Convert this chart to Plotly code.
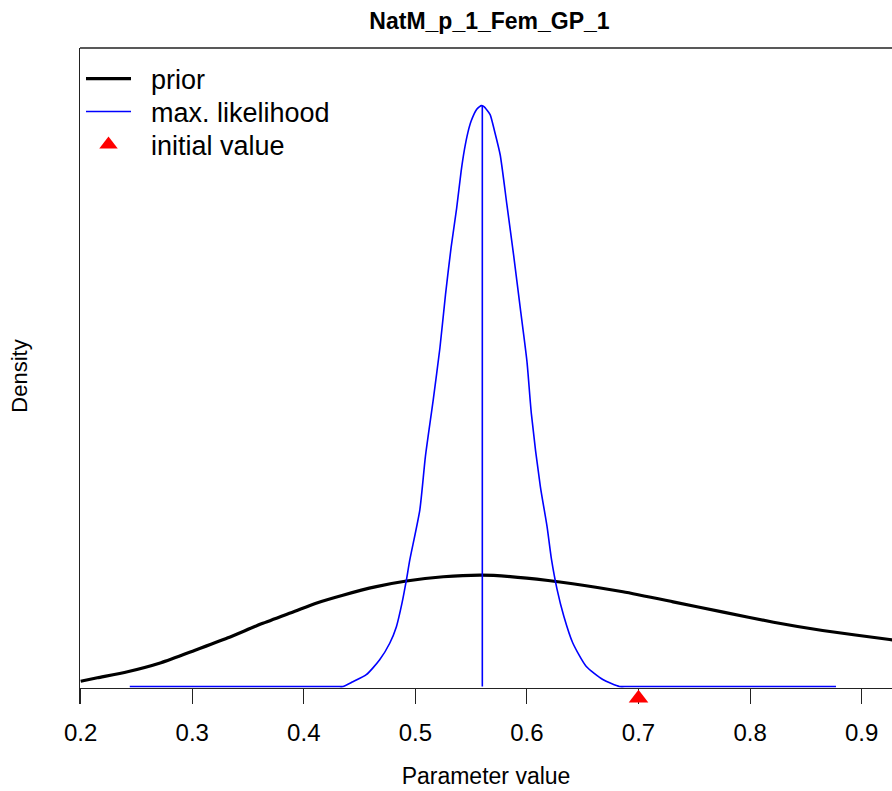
import plotly.graph_objects as go

# ---- data ----
prior_x = [0.200, 0.215, 0.242, 0.272, 0.302, 0.332, 0.362, 0.392, 0.411, 0.435,
           0.465, 0.492, 0.525, 0.559, 0.585, 0.619, 0.641, 0.686, 0.731, 0.776,
           0.821, 0.865, 0.925, 0.945]
prior_y = [0.099, 0.163, 0.275, 0.444, 0.674, 0.912, 1.174, 1.410, 1.560, 1.710,
           1.870, 1.975, 2.055, 2.085, 2.058, 1.985, 1.924, 1.774, 1.586, 1.392,
           1.204, 1.049, 0.880, 0.830]

mle_x = [0.244, 0.430, 0.435, 0.444, 0.456, 0.468, 0.477, 0.483, 0.488, 0.492, 0.495,
         0.504, 0.509, 0.516, 0.522, 0.527, 0.532, 0.537, 0.541, 0.544, 0.547,
         0.550, 0.555, 0.5575, 0.559, 0.5615, 0.564, 0.567, 0.571, 0.576, 0.582,
         0.588, 0.594, 0.600, 0.604, 0.612, 0.618, 0.622, 0.627, 0.633, 0.641,
         0.653, 0.668, 0.683, 0.690, 0.877]
mle_y = [0.0, 0.0, 0.0, 0.09, 0.22, 0.50, 0.81, 1.12, 1.56, 2.00, 2.37,
         3.31, 4.31, 5.37, 6.34, 7.34, 8.22, 8.96, 9.65, 10.06, 10.37,
         10.59, 10.81, 10.86, 10.88, 10.86, 10.80, 10.71, 10.40, 9.96, 9.03,
         8.09, 7.09, 6.09, 5.10, 3.75, 3.00, 2.38, 1.82, 1.32, 0.82,
         0.38, 0.13, 0.0, 0.0, 0.0]

mle_value = 0.56
init_value = 0.7
init_y = -0.22

x_ticks = [0.2, 0.3, 0.4, 0.5, 0.6, 0.7, 0.8, 0.9]
x_ticklabels = ["0.2", "0.3", "0.4", "0.5", "0.6", "0.7", "0.8", "0.9"]

FONT = "Liberation Sans, Arial, sans-serif"
W, H = 892, 791
PLOT_TOP, PLOT_BOTTOM = 48, 704      # plot area in pixels
AXIS_Y = 688                         # pixel row of the x axis line
NB = "\u00a0\u00a0"

def leg_y(py):
    return (PLOT_BOTTOM - py) / (PLOT_BOTTOM - PLOT_TOP)

fig = go.Figure()
fig.add_trace(go.Scatter(x=prior_x, y=prior_y, mode="lines", name=NB + "prior",
                         legend="legend",
                         line=dict(color="black", width=3.2, shape="spline", smoothing=0.6)))
fig.add_trace(go.Scatter(x=mle_x, y=mle_y, mode="lines", name=NB + "max. likelihood",
                         legend="legend2",
                         line=dict(color="#0000ff", width=1.6, shape="spline", smoothing=0.6)))
fig.add_trace(go.Scatter(x=[mle_value, mle_value], y=[0, max(mle_y)], mode="lines",
                         showlegend=False, line=dict(color="#0000ff", width=1.6)))
fig.add_trace(go.Scatter(x=[init_value], y=[init_y], mode="markers", name=NB + "initial value",
                         legend="legend3",
                         marker=dict(symbol="triangle-up", color="#ff0000", size=17,
                                     line=dict(width=0)),
                         cliponaxis=False))

leg_common = dict(x=1 / 812, xanchor="left", yanchor="middle",
                  bgcolor="rgba(0,0,0,0)", borderwidth=0,
                  font=dict(size=27, family=FONT, color="black"), itemwidth=45)

fig.update_layout(
    width=W, height=H,
    margin=dict(l=80, r=0, t=PLOT_TOP, b=H - PLOT_BOTTOM, autoexpand=False),
    paper_bgcolor="white", plot_bgcolor="white",
    font=dict(family=FONT, color="black"),
    title=dict(text="<b>NatM_p_1_Fem_GP_1</b>", x=489.5 / W, xanchor="center",
               y=1 - 21 / H, yanchor="middle", font=dict(size=23, family=FONT)),
    showlegend=True,
    legend=dict(y=leg_y(79), **leg_common),
    legend2=dict(y=leg_y(112), **leg_common),
    legend3=dict(y=leg_y(145), **leg_common),
    xaxis=dict(range=[0.1994, 0.9272], tickvals=x_ticks, ticktext=x_ticklabels,
               automargin=False, anchor="free", layer="below traces",
               position=(PLOT_BOTTOM - AXIS_Y) / (PLOT_BOTTOM - PLOT_TOP),
               showgrid=False, zeroline=False, showline=True,
               linecolor="#222222", linewidth=1.3,
               ticks="outside", ticklen=15, tickwidth=1.3, tickcolor="#222222",
               ticklabelstandoff=8,
               tickfont=dict(size=24, family=FONT),
               title=dict(text="Parameter value", font=dict(size=23, family=FONT),
                          standoff=22)),
    yaxis=dict(range=[-0.328, 11.959], showticklabels=False, ticks="",
               automargin=False, layer="below traces",
               showgrid=False, zeroline=False, showline=True,
               linecolor="#222222", linewidth=1.3,
               title=dict(text="Density", font=dict(size=22, family=FONT),
                          standoff=45)),
    shapes=[dict(type="line", xref="paper", yref="paper", x0=0, x1=1, y0=1, y1=1,
                 line=dict(color="#222222", width=1.3))],
)

fig.write_html("out.html",
               config={"displayModeBar": False},
               post_script="document.body.style.margin='0';document.body.style.overflow='hidden';")
